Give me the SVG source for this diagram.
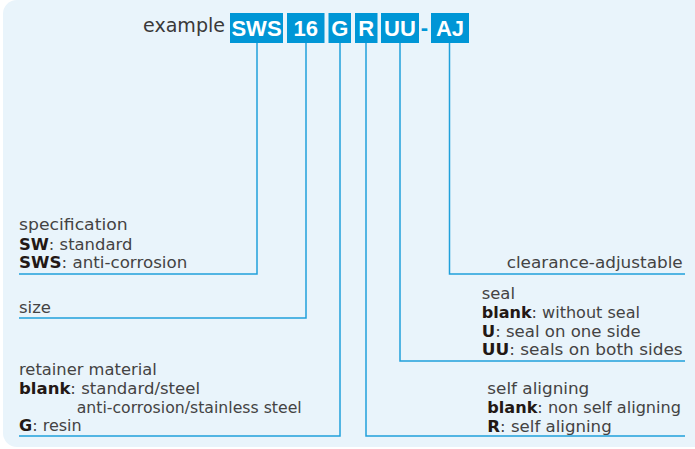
<svg xmlns="http://www.w3.org/2000/svg" width="695" height="449" viewBox="0 0 695 449">
<style>
.bg{fill:#e9f4fb}
.box{fill:#0096d6}
.bt{font-family:"Liberation Sans",Arial,sans-serif;font-weight:bold;font-size:22px;fill:#ffffff;text-anchor:middle}
.dash{font-family:"Liberation Sans",Arial,sans-serif;font-weight:bold;font-size:22px;fill:#0096d6;text-anchor:middle}
.t{font-family:"DejaVu Sans","Liberation Sans",sans-serif;font-size:15.5px;fill:#444343}
.b{font-weight:bold;fill:#231815}
.ex{font-family:"DejaVu Sans","Liberation Sans",sans-serif;font-size:19px;fill:#3a3838}
.ln{fill:none;stroke:#20a0db;stroke-width:1.5}
</style>
<rect class="bg" x="3" y="0" width="720" height="447" rx="14"/>
<text class="ex" x="143" y="31.5" textLength="82" lengthAdjust="spacingAndGlyphs">example</text>
<g id="code">
<g id="n-sws"><rect class="box" x="230" y="13" width="53" height="30"/><text class="bt" x="256.5" y="36">SWS</text></g>
<g id="n-16"><rect class="box" x="287" y="13" width="37.5" height="30"/><text class="bt" x="305.7" y="36">16</text></g>
<g id="n-g"><rect class="box" x="328.5" y="13" width="22.5" height="30"/><text class="bt" x="339.7" y="36">G</text></g>
<g id="n-r"><rect class="box" x="355" y="13" width="22.5" height="30"/><text class="bt" x="366.2" y="36">R</text></g>
<g id="n-uu"><rect class="box" x="381" y="13" width="38" height="30"/><text class="bt" x="400" y="36">UU</text></g>
<text class="dash" x="424.5" y="34.5">-</text>
<g id="n-aj"><rect class="box" x="431" y="13" width="38" height="30"/><text class="bt" x="450" y="36">AJ</text></g>
</g>
<g id="connectors">
<polyline class="ln" points="257,43 257,274 19,274"/>
<polyline class="ln" points="306,43 306,318 19,318"/>
<polyline class="ln" points="340,43 340,436 19,436"/>
<polyline class="ln" points="366,43 366,436 685,436"/>
<polyline class="ln" points="400,43 400,361 685,361"/>
<polyline class="ln" points="449.5,43 449.5,274 685,274"/>
</g>
<g id="spec">
<text class="t" x="19" y="230" textLength="108.7" lengthAdjust="spacingAndGlyphs">specification</text>
<text class="t" x="19" y="250" textLength="113.3" lengthAdjust="spacingAndGlyphs"><tspan class="b">SW</tspan>: standard</text>
<text class="t" x="19" y="268.3" textLength="168.3" lengthAdjust="spacingAndGlyphs"><tspan class="b">SWS</tspan>: anti-corrosion</text>
</g>
<g id="size">
<text class="t" x="19" y="313.3" textLength="32" lengthAdjust="spacingAndGlyphs">size</text>
</g>
<g id="retainer">
<text class="t" x="19" y="375" textLength="137.7" lengthAdjust="spacingAndGlyphs">retainer material</text>
<text class="t" x="19" y="394" textLength="181" lengthAdjust="spacingAndGlyphs"><tspan class="b">blank</tspan>: standard/steel</text>
<text class="t" x="76.7" y="412.7" textLength="225" lengthAdjust="spacingAndGlyphs">anti-corrosion/stainless steel</text>
<text class="t" x="19" y="431" textLength="62.7" lengthAdjust="spacingAndGlyphs"><tspan class="b">G</tspan>: resin</text>
</g>
<g id="clearance">
<text class="t" x="506.7" y="268.3" textLength="176" lengthAdjust="spacingAndGlyphs">clearance-adjustable</text>
</g>
<g id="seal">
<text class="t" x="481.7" y="299.3" textLength="33.3" lengthAdjust="spacingAndGlyphs">seal</text>
<text class="t" x="481.7" y="318.3" textLength="158.3" lengthAdjust="spacingAndGlyphs"><tspan class="b">blank</tspan>: without seal</text>
<text class="t" x="481.7" y="336.7" textLength="159" lengthAdjust="spacingAndGlyphs"><tspan class="b">U</tspan>: seal on one side</text>
<text class="t" x="481.7" y="355" textLength="201" lengthAdjust="spacingAndGlyphs"><tspan class="b">UU</tspan>: seals on both sides</text>
</g>
<g id="selfalign">
<text class="t" x="487.3" y="394.3" textLength="102" lengthAdjust="spacingAndGlyphs">self aligning</text>
<text class="t" x="487.3" y="413.3" textLength="193.7" lengthAdjust="spacingAndGlyphs"><tspan class="b">blank</tspan>: non self aligning</text>
<text class="t" x="487.3" y="431.7" textLength="124.4" lengthAdjust="spacingAndGlyphs"><tspan class="b">R</tspan>: self aligning</text>
</g>
</svg>
